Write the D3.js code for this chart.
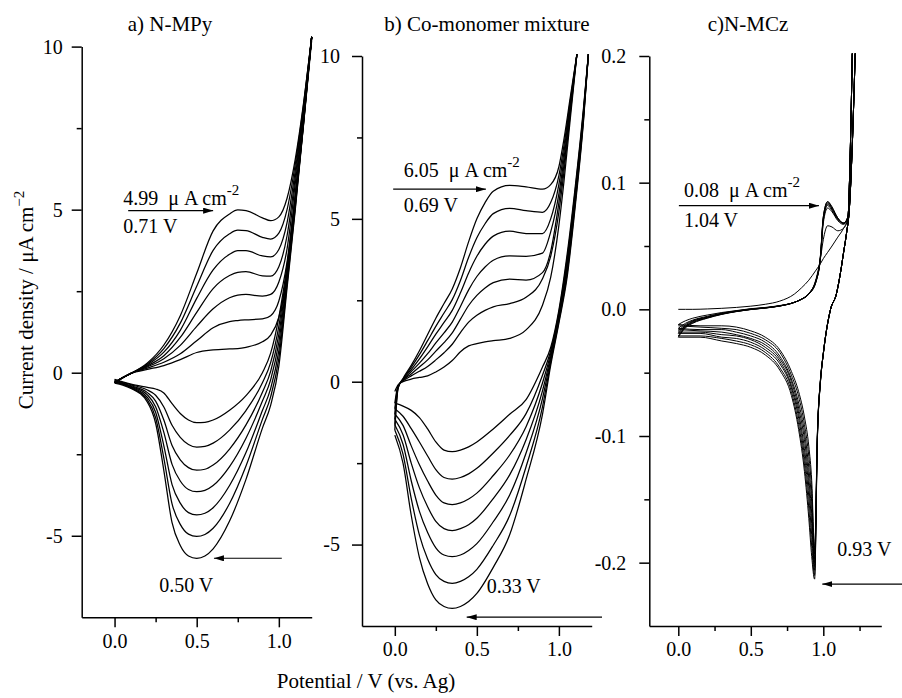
<!DOCTYPE html>
<html><head><meta charset="utf-8">
<script src="https://cdn.jsdelivr.net/npm/d3@7"></script>
<style>
body{margin:0;background:#fff}
text{font-family:"Liberation Serif","Times New Roman",serif;fill:#000}
</style>
</head><body>
<svg id="c" width="902" height="698"></svg>
<script>
// ---------------- Panel a) N-MPy ----------------
const potA_fwd = [0, 0.05, 0.1, 0.2, 0.3, 0.4, 0.5, 0.6, 0.7, 0.75, 0.8, 0.9, 0.95, 1.0, 1.05, 1.1, 1.15, 1.2];
const curA_fwd = [
  [-0.30, -0.15, -0.02, 0.30, 0.85, 1.75, 3.05, 4.35, 4.87, 4.99, 4.97, 4.75, 4.66, 4.78, 5.35, 6.55, 8.25, 10.3],
  [-0.30, -0.15, -0.02, 0.27, 0.74, 1.52, 2.65, 3.75, 4.26, 4.37, 4.36, 4.15, 4.10, 4.28, 5.00, 6.40, 8.20, 10.3],
  [-0.30, -0.15, -0.02, 0.24, 0.63, 1.30, 2.28, 3.15, 3.63, 3.74, 3.74, 3.58, 3.55, 3.78, 4.60, 6.20, 8.10, 10.3],
  [-0.30, -0.15, -0.02, 0.21, 0.52, 1.08, 1.85, 2.58, 2.98, 3.08, 3.10, 2.97, 2.96, 3.25, 4.20, 6.00, 8.00, 10.3],
  [-0.30, -0.15, -0.02, 0.18, 0.43, 0.84, 1.42, 1.96, 2.30, 2.38, 2.40, 2.35, 2.40, 2.78, 3.80, 5.80, 7.90, 10.3],
  [-0.30, -0.15, -0.02, 0.14, 0.32, 0.58, 0.98, 1.38, 1.57, 1.60, 1.62, 1.65, 1.75, 2.20, 3.40, 5.50, 7.80, 10.3],
  [-0.30, -0.15, -0.02, 0.10, 0.22, 0.40, 0.62, 0.70, 0.73, 0.74, 0.78, 0.95, 1.15, 1.70, 3.00, 5.20, 7.60, 10.2]
];
const potA_rev = [1.2, 1.15, 1.1, 1.05, 1.0, 0.95, 0.9, 0.8, 0.7, 0.6, 0.55, 0.5, 0.45, 0.4, 0.35, 0.3, 0.25, 0.2, 0.1, 0.05, 0];
const curA_rev = [
  [10.3, 7.80, 5.40, 3.30, 1.70, 0.60, 0.00, -0.70, -1.15, -1.45, -1.52, -1.53, -1.45, -1.25, -0.95, -0.62, -0.50, -0.45, -0.35, -0.28, -0.20],
  [10.3, 7.76, 5.33, 3.17, 1.43, 0.31, -0.31, -1.16, -1.76, -2.16, -2.26, -2.28, -2.20, -1.98, -1.61, -1.05, -0.69, -0.53, -0.37, -0.30, -0.22],
  [10.3, 7.73, 5.26, 3.06, 1.18, 0.04, -0.60, -1.60, -2.34, -2.83, -2.96, -2.99, -2.91, -2.67, -2.23, -1.45, -0.87, -0.61, -0.40, -0.32, -0.24],
  [10.3, 7.70, 5.20, 2.94, 0.94, -0.22, -0.87, -2.01, -2.88, -3.46, -3.61, -3.65, -3.58, -3.32, -2.81, -1.83, -1.04, -0.68, -0.42, -0.33, -0.26],
  [10.3, 7.66, 5.13, 2.82, 0.68, -0.49, -1.16, -2.45, -3.46, -4.14, -4.31, -4.36, -4.29, -4.00, -3.43, -2.24, -1.21, -0.76, -0.44, -0.35, -0.28],
  [10.3, 7.63, 5.06, 2.71, 0.44, -0.74, -1.43, -2.86, -4.01, -4.77, -4.96, -5.02, -4.95, -4.65, -4.02, -2.62, -1.38, -0.83, -0.46, -0.36, -0.30],
  [10.3, 7.60, 5.00, 2.60, 0.20, -1.00, -1.70, -3.27, -4.55, -5.40, -5.62, -5.69, -5.62, -5.30, -4.60, -3.00, -1.55, -0.90, -0.48, -0.38, -0.32]
];

// ---------------- Panel b) Co-monomer mixture ----------------
const potB_fwd = [0, 0.02, 0.05, 0.1, 0.15, 0.2, 0.25, 0.3, 0.35, 0.4, 0.45, 0.5, 0.55, 0.6, 0.7, 0.8, 0.9, 0.95, 1.0, 1.03, 1.07, 1.11];
const curB_fwd = [
  [-0.30, -0.10, 0.00, 0.08, 0.13, 0.18, 0.30, 0.45, 0.65, 0.92, 1.10, 1.17, 1.22, 1.26, 1.33, 1.59, 2.35, 3.20, 4.80, 6.10, 8.10, 10.06],
  [-0.66, -0.12, 0.02, 0.18, 0.32, 0.47, 0.67, 0.89, 1.15, 1.51, 1.83, 2.04, 2.19, 2.30, 2.40, 2.59, 3.16, 3.85, 5.21, 6.40, 8.25, 10.06],
  [-0.83, -0.14, 0.04, 0.24, 0.45, 0.67, 0.94, 1.20, 1.50, 1.92, 2.34, 2.65, 2.88, 3.04, 3.15, 3.12, 3.35, 4.00, 5.50, 6.61, 8.35, 10.06],
  [-0.99, -0.15, 0.05, 0.31, 0.57, 0.86, 1.19, 1.50, 1.83, 2.31, 2.82, 3.23, 3.52, 3.73, 3.86, 3.85, 3.95, 4.60, 5.77, 6.81, 8.45, 10.06],
  [-1.15, -0.17, 0.07, 0.37, 0.70, 1.07, 1.46, 1.82, 2.19, 2.73, 3.34, 3.85, 4.22, 4.47, 4.62, 4.55, 4.55, 5.00, 6.06, 7.02, 8.56, 10.06],
  [-1.32, -0.18, 0.08, 0.44, 0.83, 1.26, 1.70, 2.11, 2.52, 3.11, 3.82, 4.42, 4.85, 5.16, 5.32, 5.25, 5.20, 5.50, 6.33, 7.22, 8.65, 10.06],
  [-1.48, -0.20, 0.10, 0.50, 0.95, 1.45, 1.95, 2.40, 2.85, 3.50, 4.30, 5.00, 5.50, 5.85, 6.03, 5.98, 5.91, 6.05, 6.60, 7.42, 8.75, 10.06]
];
const potB_rev = [1.18, 1.15, 1.1, 1.05, 1.0, 0.95, 0.9, 0.8, 0.7, 0.6, 0.5, 0.45, 0.4, 0.35, 0.3, 0.25, 0.2, 0.15, 0.1, 0.05, 0];
const curB_rev = [
  [10.06, 8.40, 6.00, 3.90, 2.20, 1.05, 0.45, -0.55, -1.00, -1.45, -1.85, -2.00, -2.10, -2.15, -2.10, -1.85, -1.45, -1.10, -0.88, -0.75, -0.66],
  [10.06, 8.33, 5.90, 3.78, 2.13, 0.95, 0.20, -0.98, -1.65, -2.19, -2.66, -2.83, -2.94, -2.99, -2.94, -2.70, -2.28, -1.85, -1.44, -1.06, -0.83],
  [10.06, 8.27, 5.80, 3.66, 2.07, 0.86, -0.04, -1.38, -2.25, -2.88, -3.42, -3.60, -3.72, -3.77, -3.72, -3.48, -3.05, -2.55, -1.97, -1.34, -0.99],
  [10.06, 8.20, 5.70, 3.55, 2.00, 0.77, -0.28, -1.78, -2.86, -3.59, -4.19, -4.39, -4.51, -4.57, -4.51, -4.29, -3.84, -3.26, -2.50, -1.63, -1.15],
  [10.06, 8.13, 5.60, 3.43, 1.93, 0.68, -0.52, -2.19, -3.48, -4.30, -4.97, -5.18, -5.32, -5.37, -5.32, -5.10, -4.63, -3.98, -3.04, -1.92, -1.32],
  [10.06, 8.06, 5.50, 3.31, 1.86, 0.59, -0.77, -2.61, -4.11, -5.02, -5.76, -5.99, -6.13, -6.19, -6.13, -5.92, -5.44, -4.71, -3.58, -2.22, -1.48],
  [10.06, 8.00, 5.40, 3.20, 1.80, 0.50, -1.00, -3.00, -4.70, -5.70, -6.50, -6.75, -6.90, -6.96, -6.90, -6.70, -6.20, -5.40, -4.10, -2.50, -1.64]
];

// ---------------- Panel c) N-MCz ----------------
const potC_fwd = [0, 0.05, 0.1, 0.2, 0.3, 0.4, 0.5, 0.6, 0.7, 0.8, 0.85, 0.9, 0.95, 0.98, 1.0, 1.03, 1.06, 1.1, 1.14, 1.17, 1.185, 1.2];
const curC_fwd = [
  [0.000, 0.000, 0.000, 0.0003, 0.0008, 0.0015, 0.0025, 0.004, 0.0065, 0.012, 0.017, 0.023, 0.031, 0.036, 0.040, 0.045, 0.050, 0.057, 0.064, 0.072, 0.12, 0.202],
  [-0.012, -0.009, -0.007, -0.0045, -0.0025, -0.001, 0.0005, 0.0015, 0.003, 0.0055, 0.008, 0.012, 0.024, 0.040, 0.055, 0.066, 0.065, 0.062, 0.064, 0.072, 0.12, 0.202],
  [-0.015, -0.011, -0.0085, -0.0055, -0.003, -0.0012, 0.0003, 0.0013, 0.0028, 0.0055, 0.008, 0.012, 0.022, 0.040, 0.068, 0.080, 0.077, 0.070, 0.067, 0.073, 0.12, 0.202],
  [-0.017, -0.012, -0.009, -0.006, -0.0033, -0.0014, 0.0002, 0.0012, 0.0028, 0.0055, 0.008, 0.012, 0.022, 0.040, 0.070, 0.082, 0.078, 0.071, 0.068, 0.073, 0.12, 0.202],
  [-0.018, -0.013, -0.0095, -0.0062, -0.0035, -0.0015, 0.0000, 0.0012, 0.0027, 0.0055, 0.008, 0.012, 0.022, 0.041, 0.071, 0.083, 0.079, 0.071, 0.068, 0.073, 0.12, 0.202],
  [-0.019, -0.0135, -0.010, -0.0065, -0.0037, -0.0016, 0.0000, 0.0011, 0.0027, 0.0055, 0.008, 0.0125, 0.023, 0.041, 0.072, 0.084, 0.080, 0.072, 0.068, 0.073, 0.12, 0.202],
  [-0.021, -0.014, -0.0105, -0.0068, -0.0038, -0.0017, -0.0001, 0.0011, 0.0026, 0.0055, 0.008, 0.0125, 0.023, 0.042, 0.073, 0.085, 0.080, 0.072, 0.068, 0.073, 0.12, 0.202],
  [-0.022, -0.0145, -0.011, -0.007, -0.004, -0.0018, -0.0002, 0.0010, 0.0026, 0.0055, 0.008, 0.0125, 0.023, 0.042, 0.073, 0.085, 0.081, 0.072, 0.068, 0.073, 0.12, 0.202]
];
const potC_rev = [1.22, 1.2, 1.18, 1.16, 1.14, 1.12, 1.09, 1.05, 1.0, 0.98, 0.96, 0.94, 0.92, 0.9, 0.87, 0.83, 0.78, 0.7, 0.6, 0.5, 0.4, 0.3, 0.15, 0];
const curC_rev = [
  [0.202, 0.13, 0.08, 0.06, 0.045, 0.03, 0.012, 0.0, -0.035, -0.056, -0.095, -0.190, -0.135, -0.108, -0.085, -0.065, -0.049, -0.032, -0.022, -0.017, -0.014, -0.013, -0.013, -0.012],
  [0.202, 0.13, 0.08, 0.06, 0.045, 0.03, 0.012, 0.0, -0.035, -0.056, -0.096, -0.193, -0.143, -0.116, -0.091, -0.069, -0.052, -0.034, -0.024, -0.019, -0.016, -0.015, -0.014, -0.013],
  [0.202, 0.13, 0.08, 0.06, 0.045, 0.03, 0.012, 0.0, -0.035, -0.057, -0.096, -0.197, -0.152, -0.125, -0.097, -0.074, -0.055, -0.037, -0.026, -0.021, -0.018, -0.016, -0.016, -0.015],
  [0.202, 0.13, 0.08, 0.06, 0.045, 0.03, 0.012, 0.0, -0.035, -0.057, -0.097, -0.200, -0.161, -0.133, -0.103, -0.078, -0.057, -0.039, -0.028, -0.023, -0.020, -0.018, -0.017, -0.016],
  [0.202, 0.13, 0.08, 0.06, 0.045, 0.03, 0.012, 0.0, -0.035, -0.057, -0.098, -0.203, -0.169, -0.140, -0.110, -0.082, -0.060, -0.041, -0.030, -0.024, -0.021, -0.020, -0.018, -0.018],
  [0.202, 0.13, 0.08, 0.06, 0.045, 0.03, 0.012, 0.0, -0.035, -0.057, -0.099, -0.206, -0.178, -0.148, -0.116, -0.086, -0.062, -0.043, -0.032, -0.026, -0.023, -0.022, -0.019, -0.019],
  [0.202, 0.13, 0.08, 0.06, 0.045, 0.03, 0.012, 0.0, -0.035, -0.058, -0.099, -0.210, -0.187, -0.157, -0.122, -0.091, -0.065, -0.046, -0.034, -0.028, -0.025, -0.023, -0.021, -0.021],
  [0.202, 0.13, 0.08, 0.06, 0.045, 0.03, 0.012, 0.0, -0.035, -0.058, -0.100, -0.213, -0.195, -0.165, -0.128, -0.095, -0.068, -0.048, -0.036, -0.030, -0.027, -0.025, -0.022, -0.022]
];

// ---------------- Tick values & labels ----------------
const xMajor = [0, 0.5, 1.0];
const xMinorAB = [0.25, 0.75];
const xMinorC = [0.25, 0.75, 1.25];
const yMajorAB = [-5, 0, 5, 10];
const yMinorAB = [-2.5, 2.5, 7.5];
const yMajorC = [-0.2, -0.1, 0, 0.1, 0.2];
const yMinorC = [-0.15, -0.05, 0.05, 0.15];
const titles = ["a) N-MPy", "b) Co-monomer mixture", "c)N-MCz"];
const xTitle = "Potential / V (vs. Ag)";
const yTitle = "Current density / \u03BCA cm";

const svg = d3.select('#c');
svg.append('rect').attr('width', 902).attr('height', 698).attr('fill', '#fff');
const defs = svg.append('defs');
defs.append('marker').attr('id', 'ah').attr('viewBox', '0 0 10 6')
  .attr('refX', 10).attr('refY', 3).attr('markerWidth', 10).attr('markerHeight', 6)
  .attr('markerUnits', 'userSpaceOnUse').attr('orient', 'auto')
  .append('path').attr('d', 'M0,0L10,3L0,6Z').attr('fill', '#000');

const fmtAB = d => (d < 0 ? '-' : '') + Math.abs(d);
const fmtC = d => (d < 0 ? '-' : '') + Math.abs(d).toFixed(1);
const fmtX = d => d.toFixed(1);

function styleAxis(g) {
  g.selectAll('path.domain').attr('stroke', '#000').attr('stroke-width', 1.5);
  g.selectAll('.tick line').attr('stroke', '#000').attr('stroke-width', 1.5);
  g.selectAll('text').attr('font-size', 20).attr('font-family', '"Liberation Serif","Times New Roman",serif').attr('fill', '#000');
}

function panel(o) {
  const x = d3.scaleLinear().domain(o.xd).range(o.xr);
  const y = d3.scaleLinear().domain(o.yd).range(o.yr);
  const root = svg.append('g');

  const gy = root.append('g').attr('transform', `translate(${o.xr[0]},0)`)
    .call(d3.axisLeft(y).tickValues(o.yMajor).tickSize(10).tickSizeOuter(0).tickPadding(o.yPad).tickFormat(o.yFmt));
  styleAxis(gy);
  const gym = root.append('g').attr('transform', `translate(${o.xr[0]},0)`)
    .call(d3.axisLeft(y).tickValues(o.yMinor).tickSize(5).tickFormat(''));
  gym.select('path.domain').remove(); styleAxis(gym);
  const gx = root.append('g').attr('transform', `translate(0,${o.yr[0]})`)
    .call(d3.axisBottom(x).tickValues(xMajor).tickSize(10).tickSizeOuter(0).tickPadding(o.xPad).tickFormat(fmtX));
  styleAxis(gx);
  const gxm = root.append('g').attr('transform', `translate(0,${o.yr[0]})`)
    .call(d3.axisBottom(x).tickValues(o.xMinor).tickSize(5).tickFormat(''));
  gxm.select('path.domain').remove(); styleAxis(gxm);

  const line = d3.line().x(d => x(d[0])).y(d => y(d[1])).curve(d3.curveMonotoneX);
  const cg = root.append('g').attr('fill', 'none').attr('stroke', '#000').attr('stroke-width', o.sw).attr('stroke-linejoin', 'round');
  o.fwd.forEach(arr => {
    cg.append('path').attr('d', line(o.potF.map((e, i) => [e, arr[i]])));
  });
  o.rev.forEach(arr => {
    const pts = o.potR.map((e, i) => [e, arr[i]]).reverse();
    cg.append('path').attr('d', line(pts));
  });

  root.append('text').attr('x', o.titleX).attr('y', 31).attr('text-anchor', 'middle')
    .attr('font-size', 21).text(o.title);

  const a = o.ann;
  const t1 = root.append('text').attr('x', x(a.t1[0])).attr('y', y(a.t1[1])).attr('font-size', 20)
    .attr('xml:space', 'preserve').style('white-space', 'pre');
  t1.append('tspan').text(a.val + '  \u03BC A cm');
  t1.append('tspan').attr('dy', -10).attr('font-size', 15).text('-2');
  root.append('text').attr('x', x(a.t2[0])).attr('y', y(a.t2[1])).attr('font-size', 20).text(a.v1);
  root.append('line').attr('x1', x(a.ar1[0])).attr('x2', x(a.ar1[1])).attr('y1', y(a.ar1[2])).attr('y2', y(a.ar1[2]))
    .attr('stroke', '#000').attr('stroke-width', 1.2).attr('marker-end', 'url(#ah)');
  root.append('text').attr('x', x(a.t3[0])).attr('y', y(a.t3[1])).attr('font-size', 20).text(a.v2);
  root.append('line').attr('x1', x(a.ar2[0])).attr('x2', x(a.ar2[1])).attr('y1', y(a.ar2[2])).attr('y2', y(a.ar2[2]))
    .attr('stroke', '#000').attr('stroke-width', 1.2).attr('marker-end', 'url(#ah)');
}

panel({
  xd: [-0.2, 1.2], xr: [81.7, 311.7], yd: [-7.5, 10], yr: [617.3, 46.6],
  yMajor: yMajorAB, yMinor: yMinorAB, yFmt: fmtAB, yPad: 9, xPad: 7, xMinor: xMinorAB,
  potF: potA_fwd, fwd: curA_fwd, potR: potA_rev, rev: curA_rev, sw: 1.25,
  title: titles[0], titleX: 170,
  ann: { val: '4.99', t1: [0.053, 5.15], t2: [0.053, 4.29], v1: '0.71 V', ar1: [0.083, 0.60, 4.97],
         t3: [0.272, -6.72], v2: '0.50 V', ar2: [1.018, 0.605, -5.69] }
});
panel({
  xd: [-0.2, 1.2], xr: [362, 591.7], yd: [-7.5, 10], yr: [626, 56],
  yMajor: yMajorAB, yMinor: yMinorAB, yFmt: fmtAB, yPad: 12, xPad: 6, xMinor: xMinorAB,
  potF: potB_fwd, fwd: curB_fwd, potR: potB_rev, rev: curB_rev, sw: 1.25,
  title: titles[1], titleX: 487,
  ann: { val: '6.05', t1: [0.055, 6.29], t2: [0.055, 5.22], v1: '0.69 V', ar1: [-0.01, 0.555, 5.91],
         t3: [0.56, -6.50], v2: '0.33 V', ar2: [1.263, 0.438, -7.23] }
});
panel({
  xd: [-0.2, 1.4], xr: [649.3, 881.3], yd: [-0.25, 0.2], yr: [626, 56],
  yMajor: yMajorC, yMinor: yMinorC, yFmt: fmtC, yPad: 13, xPad: 6, xMinor: xMinorC,
  potF: potC_fwd, fwd: curC_fwd, potR: potC_rev, rev: curC_rev, sw: 1.0,
  title: titles[2], titleX: 748,
  ann: { val: '0.08', t1: [0.039, 0.0889], t2: [0.039, 0.0652], v1: '1.04 V', ar1: [0.004, 0.97, 0.0818],
         t3: [1.097, -0.1948], v2: '0.93 V', ar2: [1.545, 0.993, -0.2169] }
});

svg.append('text').attr('x', 366).attr('y', 688).attr('text-anchor', 'middle').attr('font-size', 21).text(xTitle);
const yt = svg.append('text').attr('transform', 'translate(33,300) rotate(-90)').attr('text-anchor', 'middle').attr('font-size', 21);
yt.append('tspan').text(yTitle);
yt.append('tspan').attr('dy', -9).attr('font-size', 15).text('\u22122');
</script>
</body></html>
